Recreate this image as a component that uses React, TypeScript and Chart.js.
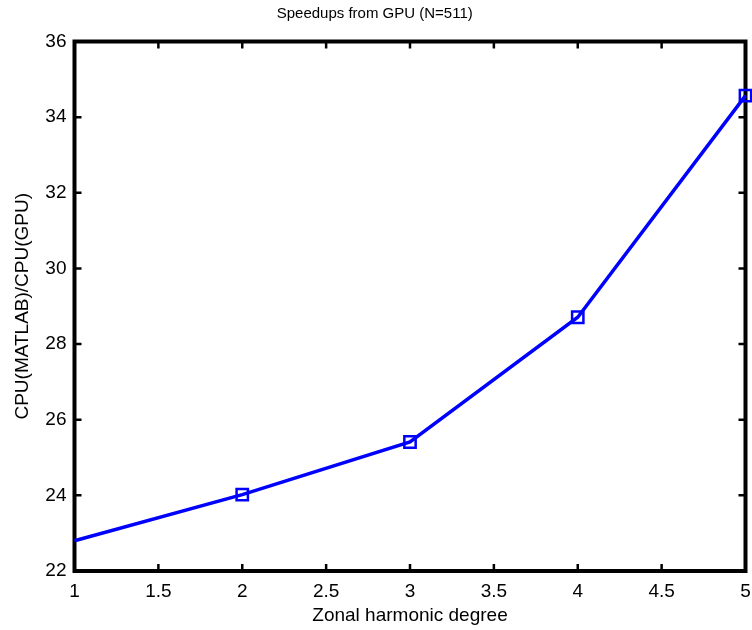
import React, { useEffect, useRef } from "react";
import { Chart, registerables } from "chart.js";

Chart.register(...registerables);

const degrees = [1, 2, 3, 4, 5];
const speedups = [22.8, 24.02, 25.41, 28.71, 34.57];
const markerRadii = [0, 8, 8, 8, 8];
const xTicks = [1, 1.5, 2, 2.5, 3, 3.5, 4, 4.5, 5];
const yTicks = [22, 24, 26, 28, 30, 32, 34, 36];
const titleText = "Speedups from GPU (N=511)";
const xLabel = "Zonal harmonic degree";
const yLabel = "CPU(MATLAB)/CPU(GPU)";

const FONT = "Liberation Sans, Arial, Helvetica, sans-serif";
const AXIS_FONT = 19;
const PAGE_W = 752;
const PAGE_H = 630;
const TARGET_RIGHT = 745.5;

const framePlugin = {
  id: "matlabFrame",
  beforeDatasetsDraw(chart: any) {
    const { ctx, chartArea } = chart;
    const { left, right, top, bottom } = chartArea;
    const xs = chart.scales.x;
    const ys = chart.scales.y;
    ctx.save();
    ctx.strokeStyle = "#000";
    ctx.lineWidth = 2.5;
    const tl = 7;
    ctx.beginPath();
    xTicks.forEach((v) => {
      const px = xs.getPixelForValue(v);
      ctx.moveTo(px, bottom);
      ctx.lineTo(px, bottom - tl);
      ctx.moveTo(px, top);
      ctx.lineTo(px, top + tl);
    });
    yTicks.forEach((v) => {
      const py = ys.getPixelForValue(v);
      ctx.moveTo(left, py);
      ctx.lineTo(left + tl, py);
      ctx.moveTo(right, py);
      ctx.lineTo(right - tl, py);
    });
    ctx.stroke();
    ctx.lineWidth = 4;
    ctx.strokeRect(left, top, right - left, bottom - top);
    ctx.restore();
  },
};

function makeConfig(): any {
  return {
    type: "line",
    data: {
      datasets: [
        {
          data: degrees.map((d, i) => ({ x: d, y: speedups[i] })),
          borderColor: "#0000ff",
          borderWidth: 3.5,
          pointStyle: "rect",
          pointRadius: markerRadii,
          pointBorderColor: "#0000ff",
          pointBackgroundColor: "rgba(0,0,0,0)",
          pointBorderWidth: 2.5,
          tension: 0,
          clip: false,
        },
      ],
    },
    options: {
      animation: false,
      responsive: false,
      devicePixelRatio: 1,
      layout: { padding: { left: 0, right: 6.5, top: 0, bottom: 0 } },
      plugins: {
        legend: { display: false },
        tooltip: { enabled: false },
        title: {
          display: true,
          text: titleText,
          color: "#000",
          font: { family: FONT, size: 15, weight: "normal" },
          padding: { top: 5, bottom: 18.5 },
        },
      },
      scales: {
        x: {
          type: "linear",
          min: 1,
          max: 5,
          afterBuildTicks: (s: any) => {
            s.ticks = xTicks.map((v) => ({ value: v }));
          },
          afterFit: (s: any) => {
            s.height = 59;
          },
          grid: { display: false, drawTicks: true, tickLength: 9 },
          border: { display: false },
          ticks: {
            color: "#000",
            padding: 0,
            maxRotation: 0,
            autoSkip: false,
            font: { family: FONT, size: AXIS_FONT },
            callback: (v: any) => String(v),
          },
          title: {
            display: true,
            text: xLabel,
            color: "#000",
            font: { family: FONT, size: AXIS_FONT },
            padding: { top: 0, bottom: 3 },
          },
        },
        y: {
          type: "linear",
          min: 22,
          max: 36,
          afterBuildTicks: (s: any) => {
            s.ticks = yTicks.map((v) => ({ value: v }));
          },
          afterFit: (s: any) => {
            s.width = 74.5;
          },
          grid: { display: false, drawTicks: true, tickLength: 8 },
          border: { display: false },
          ticks: {
            color: "#000",
            padding: 0,
            autoSkip: false,
            font: { family: FONT, size: AXIS_FONT },
            callback: (v: any) => String(v),
          },
          title: {
            display: true,
            text: yLabel,
            color: "#000",
            font: { family: FONT, size: AXIS_FONT },
            padding: { top: 11, bottom: 0 },
          },
        },
      },
    },
    plugins: [framePlugin],
  };
}

export default function App() {
  const ref = useRef<HTMLCanvasElement | null>(null);
  useEffect(() => {
    const canvas = ref.current;
    if (!canvas) return;
    let chart: any = new Chart(canvas, makeConfig());
    const diff = Math.round(TARGET_RIGHT - chart.chartArea.right);
    if (diff > 0) {
      chart.destroy();
      const w = PAGE_W + diff;
      canvas.width = w;
      canvas.height = PAGE_H;
      canvas.style.width = w + "px";
      canvas.style.height = PAGE_H + "px";
      chart = new Chart(canvas, makeConfig());
    }
    return () => chart.destroy();
  }, []);
  return (
    <div style={{ position: "absolute", left: 0, top: 0, width: PAGE_W, height: PAGE_H, overflow: "hidden", background: "#fff" }}>
      <canvas ref={ref} width={PAGE_W} height={PAGE_H} style={{ width: PAGE_W, height: PAGE_H, display: "block" }} />
    </div>
  );
}
